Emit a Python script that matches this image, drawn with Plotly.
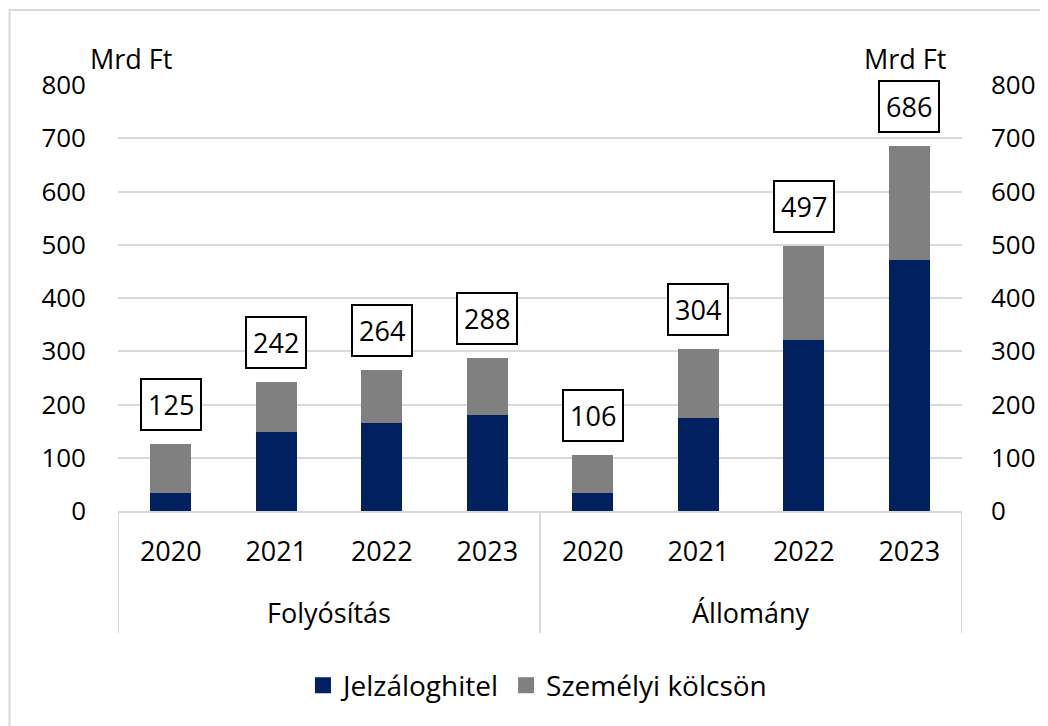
import plotly.graph_objects as go

groups = ["Folyósítás"] * 4 + ["Állomány"] * 4
group_names = ["Folyósítás", "Állomány"]
years = ["2020", "2021", "2022", "2023", "2020", "2021", "2022", "2023"]
jelzalog = [34, 148, 165, 181, 34, 174, 321, 472]
totals = [125, 242, 264, 288, 106, 304, 497, 686]
szemelyi = [t - j for t, j in zip(totals, jelzalog)]
y_ticks = [0, 100, 200, 300, 400, 500, 600, 700, 800]

cats = [f"{g} {y}" for g, y in zip(groups, years)]

FONT = "Open Sans"
fs = 27
DARK = "#002060"
GRAY = "#808080"
GRID = "#d9d9d9"

fig = go.Figure()
fig.add_trace(go.Bar(x=cats, y=jelzalog, name="Jelzáloghitel", legendgroup="j", showlegend=False,
                     marker=dict(color=DARK, line=dict(width=0)), width=0.39))
fig.add_trace(go.Bar(x=cats, y=szemelyi, name="Személyi kölcsön", legendgroup="s", showlegend=False,
                     marker=dict(color=GRAY, line=dict(width=0)), width=0.39))
# legend entries with larger square symbols
fig.add_trace(go.Scatter(x=[None], y=[None], mode="markers", name="Jelzáloghitel", legendgroup="j",
                         marker=dict(symbol="square", size=16, color=DARK)))
fig.add_trace(go.Scatter(x=[None], y=[None], mode="markers", name="Személyi kölcsön", legendgroup="s",
                         marker=dict(symbol="square", size=16, color=GRAY)))

for c, t in zip(cats, totals):
    fig.add_annotation(x=c, y=t, text=str(t), showarrow=False,
                       yanchor="bottom", yshift=13,
                       font=dict(family=FONT, size=27, color="black"),
                       bordercolor="black", borderwidth=2, borderpad=6, bgcolor="white")

# group labels and dividers
n = len(cats)
per = n // len(group_names)
for gi, gname in enumerate(group_names):
    fig.add_annotation(x=gi * per + (per - 1) / 2, y=0, yref="paper", yshift=-101,
                       yanchor="middle", text=gname, showarrow=False,
                       font=dict(family=FONT, size=fs, color="black"))
for k in range(len(group_names) + 1):
    fig.add_shape(type="line", xref="x", yref="paper", x0=k * per - 0.5, x1=k * per - 0.5,
                  y0=0, y1=-0.287, line=dict(color=GRID, width=2))

fig.add_annotation(xref="paper", yref="paper", x=-0.035, y=1.0, yshift=27,
                   text="Mrd Ft", showarrow=False, xanchor="left", yanchor="middle",
                   font=dict(family=FONT, size=fs, color="black"))
fig.add_annotation(xref="paper", yref="paper", x=0.984, y=1.0, yshift=27,
                   text="Mrd Ft", showarrow=False, xanchor="right", yanchor="middle",
                   font=dict(family=FONT, size=fs, color="black"))

fig.add_shape(type="rect", xref="paper", yref="paper", x0=-0.1285, x1=1.0995, y0=-0.7, y1=1.176,
              line=dict(color=GRID, width=2))

# page has an 8px body margin, so the figure is 8px smaller and offsets shifted
fig.update_layout(
    width=1040, height=718,
    barmode="stack",
    paper_bgcolor="white", plot_bgcolor="white",
    margin=dict(l=110, r=86, t=77, b=215),
    font=dict(family=FONT, size=fs, color="black"),
    showlegend=True,
    legend=dict(orientation="h", x=0.497, xanchor="center", y=-0.41, yanchor="middle",
                font=dict(family=FONT, size=28), traceorder="normal", itemsizing="trace"),
    xaxis=dict(type="category", showline=True, linecolor=GRID, linewidth=2,
               tickvals=cats, ticktext=years, tickfont=dict(family=FONT, size=fs),
               ticks="", ticklabelstandoff=16, automargin=False, range=[-0.5, n - 0.5]),
    yaxis=dict(range=[0, 800], tickvals=y_ticks, showgrid=True, gridcolor=GRID,
               gridwidth=2, zeroline=False, ticks="", tickfont=dict(family=FONT, size=26),
               ticklabelstandoff=31, automargin=False),
    yaxis2=dict(range=[0, 800], tickvals=y_ticks, overlaying="y", side="right",
                showgrid=False, zeroline=False, ticks="", tickfont=dict(family=FONT, size=26),
                ticklabelstandoff=28, anchor="x", automargin=False),
)
fig.add_trace(go.Scatter(x=cats[0:1], y=[0], yaxis="y2", mode="markers",
                         marker=dict(opacity=0), showlegend=False, hoverinfo="skip"))

fig.write_html("out.html")
